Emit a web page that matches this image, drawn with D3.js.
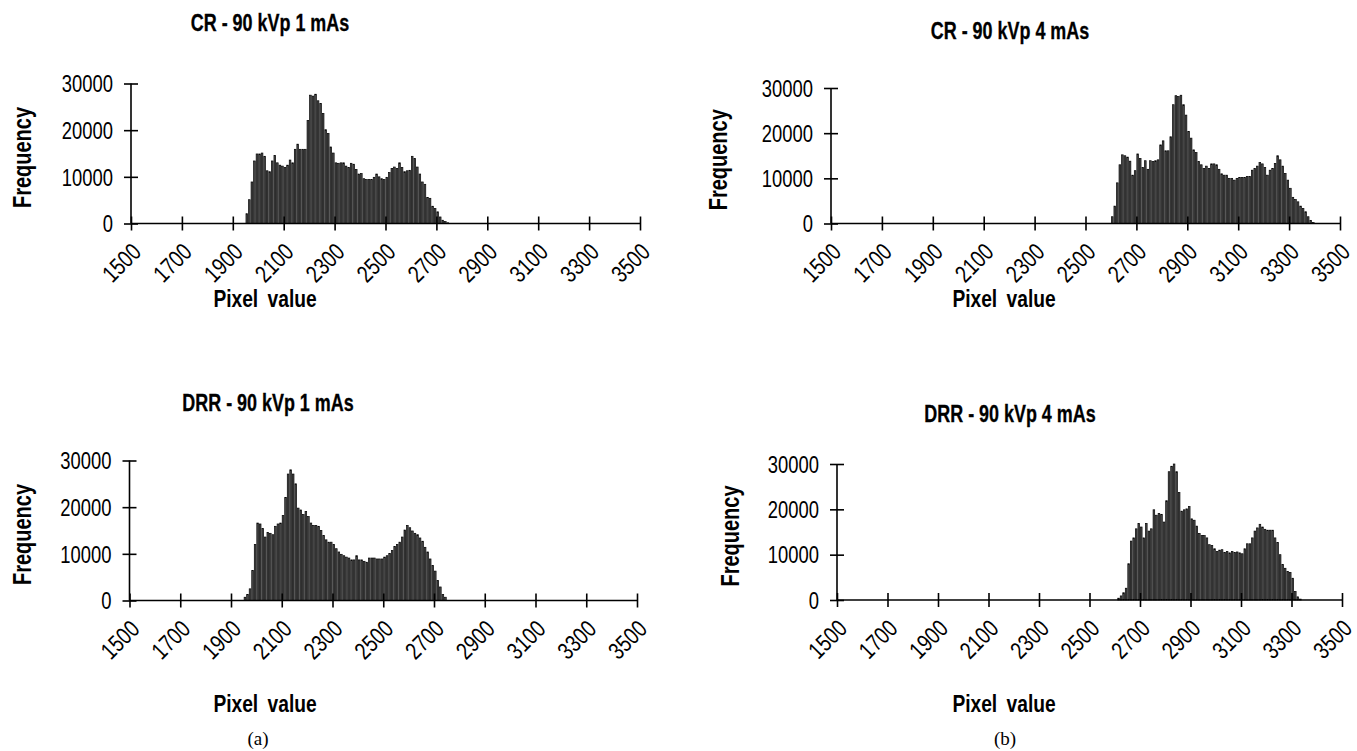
<!DOCTYPE html>
<html>
<head>
<meta charset="utf-8">
<script src="https://cdn.jsdelivr.net/npm/d3@7"></script>
<style>
  html, body { margin: 0; padding: 0; background: #fff; }
  svg { display: block; }
  text { font-family: "Liberation Sans", Arial, Helvetica, sans-serif; fill: #000; }
</style>
</head>
<body>
<svg id="chart" width="1357" height="751"></svg>
<script>
// ---------- data ----------
const xTickLabels = [1500, 1700, 1900, 2100, 2300, 2500, 2700, 2900, 3100, 3300, 3500];
const yTickLabels = [0, 10000, 20000, 30000];
const binWidth = 10;

const titles = ["CR - 90 kVp 1 mAs", "CR - 90 kVp 4 mAs", "DRR - 90 kVp 1 mAs", "DRR - 90 kVp 4 mAs"];
const xAxisTitle = "Pixel value";
const yAxisTitle = "Frequency";
const captions = ["(a)", "(b)"];

// first bin (left edge) of each histogram
const startCR1 = 1950;
const startCR4 = 2600;
const startDRR1 = 1950;
const startDRR4 = 2610;

const freqCR1 = [
  2100,5100,8900,13400,14900,14900,15100,14400,11300,11100,
  13400,14600,13000,12500,12300,12000,12500,13600,13000,15900,
  17000,15900,15900,15900,22100,27500,27300,27700,26300,25700,
  23600,20100,19300,16400,15100,13000,12900,13000,13000,12300,
  12000,12900,12700,11600,10600,10700,9600,9400,9400,9400,
  9900,10600,10000,9600,9400,9900,10900,11800,12100,11800,
  13000,12000,11100,11300,11400,14400,13900,12100,10600,8900,
  8400,5600,5400,3700,3200,2500,1400,700,400,150
];
const freqCR4 = [
  1500,3850,9000,13000,15200,15000,14700,13800,10700,11700,
  15400,14400,12400,13900,12000,13900,13700,13900,14100,17400,
  18300,16100,16100,19200,26300,28300,28100,28400,26300,24000,
  20400,18900,16300,15700,13700,13000,12200,12700,12200,13200,
  13200,13000,12000,11000,10700,10700,10000,10000,9600,10000,
  10200,10200,10200,10400,10400,11800,12200,12700,13500,13200,
  12400,10700,11800,12200,13300,15000,14100,12700,11100,9600,
  7800,5800,5300,4800,3850,3300,2600,1500,700,200
];
const freqDRR1 = [
  700,1300,2500,6400,12000,16600,16400,15400,13600,14600,
  14400,14100,15900,16400,16600,18200,22100,27100,28000,27100,
  25000,19800,19400,18400,19100,18000,16600,16100,16100,15900,
  15000,13900,13000,12500,12500,12000,11100,10400,9900,9600,
  9300,9100,8700,8700,9600,8700,8700,8400,8200,9100,
  9100,9100,8900,8900,8900,9300,9600,10100,10700,11600,
  12000,12500,13600,15100,16100,15600,14900,14400,14100,13400,
  12700,11400,10400,8900,7500,6300,4300,2900,1300,700
];
const freqDRR4 = [
  400,900,1600,2600,8000,13000,13700,15700,16900,16100,
  13700,16900,15200,15700,19900,18700,19100,18900,17200,21900,
  28300,29500,30000,28300,23700,19600,19900,20100,20600,17900,
  17600,16300,14700,14200,14200,13700,12200,12000,11300,10700,
  11000,11100,10500,10700,10400,10700,10500,10600,10400,10200,
  11300,12400,12400,13700,15200,15900,16700,16100,15600,15400,
  15400,15400,13700,12700,10000,7800,7000,6300,6100,4800,
  1900,700,200
];

// ---------- layout ----------
const NARROW = 0.8;   // horizontal squeeze of the reference typeface
const panels = [
  { title: titles[0], start: startCR1, freq: freqCR1,
    x0: 131, x1: 640, yTop: 83.5, yBot: 223.5, titleX: 270, titleY: 31, yTitleX: 31, xTitleX: 265, xTitleY: 307 },
  { title: titles[1], start: startCR4, freq: freqCR4,
    x0: 831, x1: 1340, yTop: 88, yBot: 223.5, titleX: 1010, titleY: 39, yTitleX: 727, xTitleX: 1004, xTitleY: 307 },
  { title: titles[2], start: startDRR1, freq: freqDRR1,
    x0: 129.5, x1: 637, yTop: 460.5, yBot: 600.5, titleX: 268, titleY: 411, yTitleX: 31, xTitleX: 265, xTitleY: 712 },
  { title: titles[3], start: startDRR4, freq: freqDRR4,
    x0: 837, x1: 1342, yTop: 464, yBot: 600, titleX: 1010, titleY: 422, yTitleX: 739, xTitleX: 1004, xTitleY: 712 }
];

const svg = d3.select("#chart");

panels.forEach(p => {
  const g = svg.append("g");
  const x = d3.scaleLinear().domain([xTickLabels[0], xTickLabels[xTickLabels.length - 1]]).range([p.x0, p.x1]);
  const y = d3.scaleLinear().domain([yTickLabels[0], yTickLabels[yTickLabels.length - 1]]).range([p.yBot, p.yTop]);

  const bins = p.freq.map((v, i) => ({ lo: p.start + i * binWidth, v }));
  const bw = x(p.start + binWidth) - x(p.start);

  g.selectAll("rect.bar").data(bins).enter().append("rect")
    .attr("class", "bar")
    .attr("x", d => x(d.lo) + 0.45)
    .attr("width", Math.max(0.5, bw - 0.9))
    .attr("y", d => y(d.v))
    .attr("height", d => y(0) - y(d.v))
    .attr("fill", "#4a4a4a")
    .attr("stroke", "#050505")
    .attr("stroke-width", 0.7);

  // x axis (ticks cross the line)
  const xa = g.append("g").attr("transform", `translate(0,${y(0)})`)
    .call(d3.axisBottom(x).tickValues(xTickLabels).tickSize(7).tickFormat(""));
  xa.select(".domain").attr("stroke", "#000").attr("stroke-width", 1.6).attr("d", `M${p.x0},0H${p.x1}`);
  xa.selectAll(".tick line").attr("y1", -7).attr("y2", 7).attr("stroke", "#000").attr("stroke-width", 1.6);

  xa.selectAll(".tick").append("text")
    .attr("transform", `translate(5,24) rotate(-45) scale(${NARROW},1)`)
    .attr("text-anchor", "end")
    .attr("dy", "0.35em")
    .attr("font-size", 24)
    .attr("fill", "#000")
    .text(d => d);

  // y axis
  const ya = g.append("g").attr("transform", `translate(${p.x0},0)`)
    .call(d3.axisLeft(y).tickValues(yTickLabels).tickSize(7).tickFormat(""));
  ya.select(".domain").attr("stroke", "#000").attr("stroke-width", 1.6).attr("d", `M0,${p.yTop}V${p.yBot}`);
  ya.selectAll(".tick line").attr("x1", -7).attr("x2", 7).attr("stroke", "#000").attr("stroke-width", 1.6);
  ya.selectAll(".tick").append("text")
    .attr("transform", `translate(-18,0) scale(${NARROW},1)`)
    .attr("text-anchor", "end").attr("dy", "0.36em")
    .attr("font-size", 23).attr("fill", "#000")
    .text(d => d);

  // titles
  g.append("text").attr("text-anchor", "middle")
    .attr("transform", `translate(${p.titleX},${p.titleY}) scale(0.78,1)`)
    .attr("font-size", 23).attr("font-weight", "bold")
    .attr("stroke", "#000").attr("stroke-width", 0.3).text(p.title);
  g.append("text").attr("text-anchor", "middle").attr("font-size", 25).attr("font-weight", "bold")
    .attr("transform", `translate(${p.yTitleX},${(p.yTop + p.yBot) / 2 + 4}) rotate(-90) scale(${NARROW},1)`)
    .text(yAxisTitle);
  g.append("text").attr("text-anchor", "middle")
    .attr("transform", `translate(${p.xTitleX},${p.xTitleY}) scale(${NARROW},1)`)
    .attr("font-size", 24).attr("font-weight", "bold").attr("word-spacing", 5).text(xAxisTitle);
});

svg.append("text").attr("x", 258).attr("y", 745).attr("text-anchor", "middle")
  .attr("font-size", 19).style("font-family", '"Liberation Serif", "Times New Roman", serif').text(captions[0]);
svg.append("text").attr("x", 1005).attr("y", 745).attr("text-anchor", "middle")
  .attr("font-size", 19).style("font-family", '"Liberation Serif", "Times New Roman", serif').text(captions[1]);
</script>
</body>
</html>
